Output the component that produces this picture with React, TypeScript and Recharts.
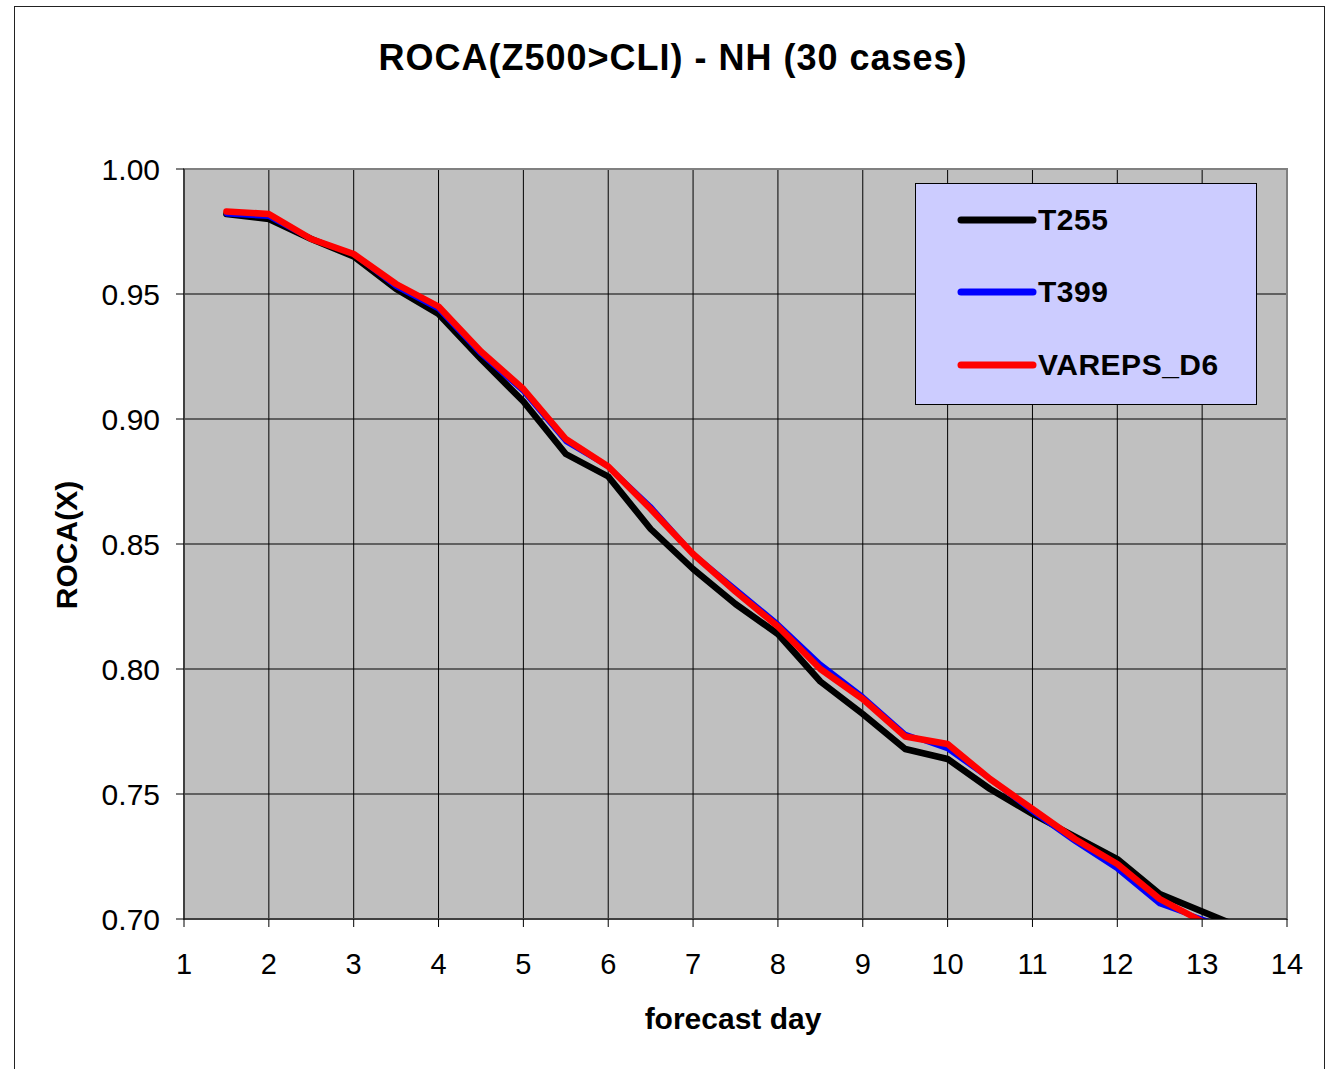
import React from 'react'
import {
  LineChart,
  Line,
  XAxis,
  YAxis,
  CartesianGrid,
  ReferenceArea,
} from 'recharts'

// forecast days (half-day steps)
const days = [1.5, 2, 2.5, 3, 3.5, 4, 4.5, 5, 5.5, 6, 6.5, 7, 7.5, 8, 8.5, 9, 9.5, 10, 10.5, 11, 11.5, 12, 12.5, 13, 13.5]

const t255 = [0.982, 0.98, 0.972, 0.965, 0.952, 0.942, 0.924, 0.907, 0.886, 0.877, 0.856, 0.84, 0.826, 0.814, 0.795, 0.782, 0.768, 0.764, 0.752, 0.742, 0.733, 0.724, 0.71, 0.703, 0.696]
const t399 = [0.982, 0.981, 0.972, 0.966, 0.953, 0.944, 0.926, 0.911, 0.891, 0.881, 0.865, 0.846, 0.832, 0.818, 0.802, 0.789, 0.774, 0.768, 0.756, 0.743, 0.731, 0.72, 0.706, 0.7, 0.694]
const vareps = [0.983, 0.982, 0.972, 0.966, 0.954, 0.945, 0.927, 0.912, 0.892, 0.881, 0.864, 0.846, 0.831, 0.817, 0.8, 0.788, 0.773, 0.77, 0.756, 0.744, 0.732, 0.722, 0.708, 0.699, 0.692]

const xTicks = [1, 2, 3, 4, 5, 6, 7, 8, 9, 10, 11, 12, 13, 14]
const yTicks = [0.7, 0.75, 0.8, 0.85, 0.9, 0.95, 1.0]

const seriesNames = ['T255', 'T399', 'VAREPS_D6']
const seriesColors = ['#000000', '#0000ff', '#ff0000']

const FONT = '"Liberation Sans", Arial, sans-serif'

const chartData = days.map((d, i) => ({
  day: d,
  T255: t255[i],
  T399: t399[i],
  VAREPS_D6: vareps[i],
}))

// legend row centres, relative to the legend box
const rowY = [36, 108, 181]

function LegendBox() {
  return (
    <div
      style={{
        position: 'absolute',
        left: 915,
        top: 183,
        width: 340,
        height: 220,
        background: '#ccccff',
        border: '1px solid #000',
        fontFamily: FONT,
      }}
    >
      {seriesNames.map((name, i) => (
        <div
          key={name}
          style={{
            position: 'absolute',
            left: 40,
            top: rowY[i] - 18,
            height: 36,
            display: 'flex',
            alignItems: 'center',
          }}
        >
          <svg width={82} height={12}>
            <line x1={5} y1={6} x2={77} y2={6} stroke={seriesColors[i]} strokeWidth={7} strokeLinecap="round" />
          </svg>
          <span style={{ fontSize: 30, fontWeight: 'bold', color: '#000', letterSpacing: 0.5 }}>
            {name}
          </span>
        </div>
      ))}
    </div>
  )
}

export default function App() {
  return (
    <div
      style={{
        position: 'absolute',
        left: 0,
        top: 0,
        width: 1329,
        height: 1069,
        overflow: 'hidden',
        background: '#fff',
        fontFamily: FONT,
      }}
    >
      <div
        style={{
          position: 'absolute',
          left: 14,
          top: 6,
          width: 1309,
          height: 1100,
          border: '1px solid #222',
        }}
      />
      <div style={{ position: 'absolute', left: 0, top: 0 }}>
        <LineChart
          width={1329}
          height={1069}
          data={chartData}
          margin={{ top: 169, right: 42, bottom: 70, left: 124 }}
          style={{ fontFamily: FONT }}
        >
          <CartesianGrid fill="#c0c0c0" fillOpacity={1} stroke="#000" strokeWidth={1} />
          <ReferenceArea x1={1} x2={14} y1={0.7} y2={1} fill="none" stroke="#808080" strokeWidth={2} />
          <XAxis
            type="number"
            dataKey="day"
            domain={[1, 14]}
            ticks={xTicks}
            allowDataOverflow
            interval={0}
            height={80}
            tickSize={8}
            tickMargin={26}
            stroke="#000"
            tick={{ fill: '#000', fontSize: 29 }}
          />
          <YAxis
            type="number"
            domain={[0.7, 1]}
            ticks={yTicks}
            allowDataOverflow
            interval={0}
            width={60}
            tickSize={8}
            tickMargin={16}
            stroke="#000"
            tick={{ fill: '#000', fontSize: 30 }}
            tickFormatter={(v: number) => v.toFixed(2)}
          />
          {seriesNames.map((name, i) => (
            <Line
              key={name}
              type="linear"
              dataKey={name}
              name={name}
              stroke={seriesColors[i]}
              strokeWidth={i === 1 ? 5 : 6.5}
              strokeLinejoin="round"
              strokeLinecap="round"
              dot={false}
              activeDot={false}
              isAnimationActive={false}
            />
          ))}
        </LineChart>
      </div>
      <LegendBox />
      <svg
        width={1329}
        height={1069}
        style={{ position: 'absolute', left: 0, top: 0, pointerEvents: 'none' }}
      >
        <text x={673} y={70} textAnchor="middle" fontSize={36} fontWeight="bold" letterSpacing={1} fontFamily={FONT} fill="#000">
          ROCA(Z500&gt;CLI) - NH (30 cases)
        </text>
        <text
          x={0}
          y={0}
          transform="translate(77,545) rotate(-90)"
          textAnchor="middle"
          fontSize={30}
          fontWeight="bold"
          fontFamily={FONT}
          fill="#000"
        >
          ROCA(X)
        </text>
        <text x={733} y={1029} textAnchor="middle" fontSize={30} fontWeight="bold" fontFamily={FONT} fill="#000">
          forecast day
        </text>
      </svg>
    </div>
  )
}
